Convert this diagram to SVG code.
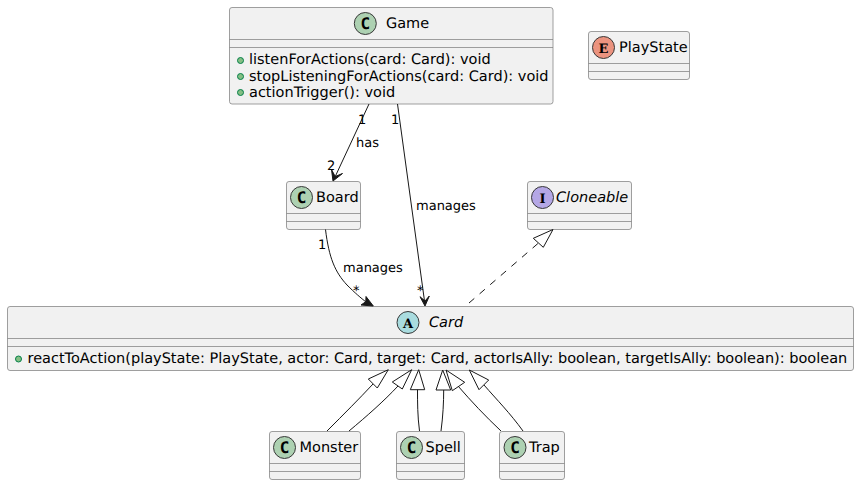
<svg xmlns="http://www.w3.org/2000/svg" width="859" height="485" viewBox="0 0 859 485">
<style>
text{font-family:"DejaVu Sans",sans-serif;font-size:14.5px;fill:#000;text-rendering:geometricPrecision}
.box{fill:#F1F1F1;stroke:#808080;stroke-width:.75}
.sep{stroke:#808080;stroke-width:.75;fill:none}
.spot{stroke:#383838;stroke-width:1}
.sc{fill:#ADD1B2}.sa{fill:#A9DCDF}.si{fill:#B4A7E5}.se{fill:#EB937F}
.sl{font-family:"DejaVu Sans Mono",monospace;font-weight:bold;font-size:16px;text-anchor:middle}
.ss{font-family:"DejaVu Serif",serif;font-weight:bold;font-size:13px;text-anchor:middle}
.it{font-style:italic}
.dot{fill:#84BE84;stroke:#038048;stroke-width:1}
text.lb{font-size:13px}
.e{fill:none;stroke:#181818;stroke-width:1}
.d{stroke-dasharray:7,7}
.ah{fill:#181818;stroke:#181818;stroke-width:1}
.oh{fill:none;stroke:#181818;stroke-width:1}
</style>
<g id="Game">
<rect class="box" x="229.500" y="7.500" width="323.500" height="96.500" rx="2.500"/>
<path class="sep" d="M229.500 39.500H553M229.500 47.500H553"/>
<circle class="spot sc" cx="365.300" cy="23.500" r="11"/><text class="sl" x="365.300" y="28.500">C</text>
<text x="386" y="28">Game</text>
<circle class="dot" cx="240.500" cy="60.500" r="3"/><text x="249" y="64">listenForActions(card: Card): void</text>
<circle class="dot" cx="240.500" cy="76.500" r="3"/><text x="249" y="80.500">stopListeningForActions(card: Card): void</text>
<circle class="dot" cx="240.500" cy="92.500" r="3"/><text x="249" y="97">actionTrigger(): void</text>
</g>
<g id="PlayState">
<rect class="box" x="588.500" y="31.500" width="101" height="48" rx="2.500"/>
<path class="sep" d="M588.500 63.500H689.500M588.500 71.500H689.500"/>
<circle class="spot se" cx="603.500" cy="47.500" r="11"/><text class="ss" x="603.500" y="52.500">E</text>
<text x="619" y="52">PlayState</text>
</g>
<g id="Board">
<rect class="box" x="286.500" y="181.500" width="74" height="48" rx="2.500"/>
<path class="sep" d="M286.500 213.500H360.500M286.500 221.500H360.500"/>
<circle class="spot sc" cx="301.500" cy="197.500" r="11"/><text class="sl" x="301.500" y="202.500">C</text>
<text x="316" y="202">Board</text>
</g>
<g id="Cloneable">
<rect class="box" x="527.500" y="181.500" width="104" height="48" rx="2.500"/>
<path class="sep" d="M527.500 213.500H631.500M527.500 221.500H631.500"/>
<circle class="spot si" cx="542.500" cy="197.500" r="11"/><text class="ss" x="542.500" y="202.500">I</text>
<text class="it" x="556" y="202">Cloneable</text>
</g>
<g id="Card">
<rect class="box" x="7.500" y="306.500" width="846" height="64" rx="2.500"/>
<path class="sep" d="M7.500 338.500H853.500M7.500 346.500H853.500"/>
<circle class="spot sa" cx="408" cy="322.500" r="11"/><text class="ss" x="408" y="327.500">A</text>
<text class="it" x="429" y="327">Card</text>
<circle class="dot" cx="18.500" cy="359" r="3"/><text x="27.500" y="363">reactToAction(playState: PlayState, actor: Card, target: Card, actorIsAlly: boolean, targetIsAlly: boolean): boolean</text>
</g>
<g id="Monster">
<rect class="box" x="269.500" y="431.500" width="91" height="48" rx="2.500"/>
<path class="sep" d="M269.500 463.500H360.500M269.500 471.500H360.500"/>
<circle class="spot sc" cx="284.500" cy="447.500" r="11"/><text class="sl" x="284.500" y="452.500">C</text>
<text x="299.500" y="452">Monster</text>
</g>
<g id="Spell">
<rect class="box" x="396.500" y="431.500" width="68" height="48" rx="2.500"/>
<path class="sep" d="M396.500 463.500H464.500M396.500 471.500H464.500"/>
<circle class="spot sc" cx="411.500" cy="447.500" r="11"/><text class="sl" x="411.500" y="452.500">C</text>
<text x="425.500" y="452">Spell</text>
</g>
<g id="Trap">
<rect class="box" x="499.500" y="431.500" width="65" height="48" rx="2.500"/>
<path class="sep" d="M499.500 463.500H564.500M499.500 471.500H564.500"/>
<circle class="spot sc" cx="515" cy="447.500" r="11"/><text class="sl" x="515" y="452.500">C</text>
<text x="529" y="452">Trap</text>
</g>
<g id="connectors">
<path class="e" d="M369 104L335 177"/><path class="ah" d="M333 181L342.500 173.500L335.200 176.500L331.500 169.500Z"/>
<path class="e" d="M397.500 104L424.500 301"/><path class="ah" d="M425 306L429.300 296L425 301L420 296.700Z"/>
<path class="e" d="M325.500 229.500C329 258 335 272 347 285C355 293 361 298 366 302"/><path class="ah" d="M373.300 306L366 296.500L365.800 301.700L361 305Z"/>
<path class="e d" d="M469 303L538.500 243"/><path class="oh" d="M553 229.500L533.300 238.300L543.300 247.300Z"/>
<path class="e" d="M327 431C344 414 359 399 373 384"/><path class="oh" d="M388.300 369.700L368.300 379L377.300 388Z"/>
<path class="e" d="M349 431C367 416 384 401 398 386"/><path class="oh" d="M411.700 369.700L392.300 382L402.300 389Z"/>
<path class="e" d="M419.500 431C417.500 416 417.500 402 417.500 389.700"/><path class="oh" d="M418.700 369.700L410.300 389.700L424.700 389.700Z"/>
<path class="e" d="M441 431C443 416 443.700 402 443.700 390"/><path class="oh" d="M442.700 370L436 390L450.700 390Z"/>
<path class="e" d="M501 431C485 416 471 401 458 386"/><path class="oh" d="M446 370L452.300 390.700L464.700 382.300Z"/>
<path class="e" d="M523 431C510 413 497 400 484 385"/><path class="oh" d="M469.300 370L479 389.700L488.700 380Z"/>
<text class="lb" x="356" y="147">has</text>
<text class="lb" x="358" y="124">1</text>
<text class="lb" x="327" y="170">2</text>
<text class="lb" x="416" y="210">manages</text>
<text class="lb" x="391" y="124">1</text>
<text class="lb" x="417" y="295">*</text>
<text class="lb" x="343" y="272">manages</text>
<text class="lb" x="318" y="249">1</text>
<text class="lb" x="353" y="295">*</text>
</g>
</svg>
